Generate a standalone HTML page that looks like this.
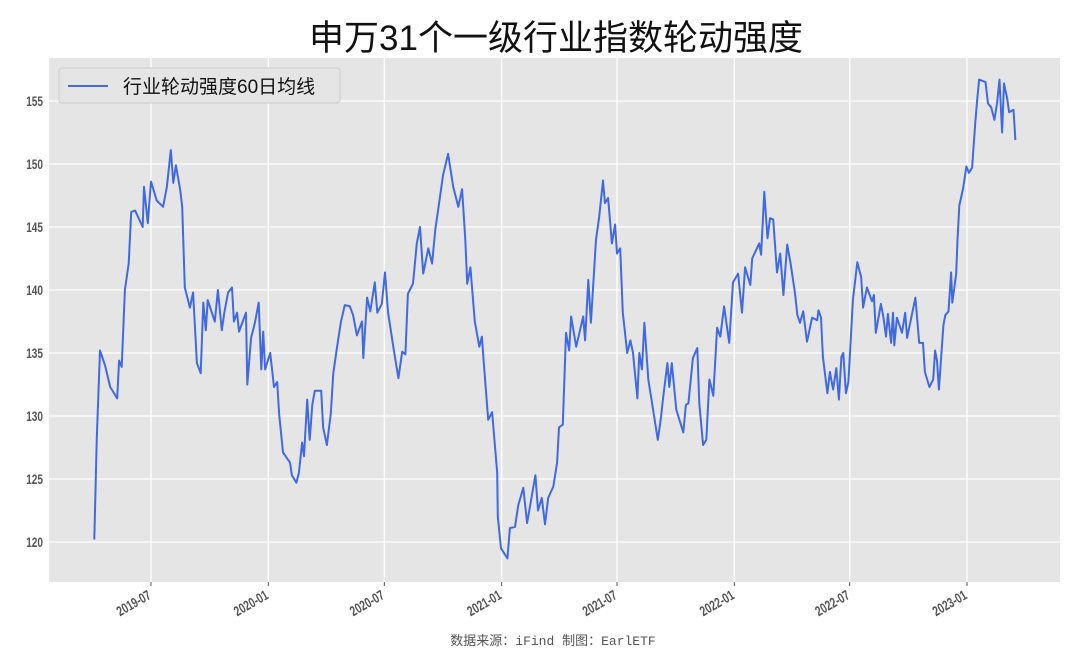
<!DOCTYPE html>
<html><head><meta charset="utf-8"><style>
html,body{margin:0;padding:0;background:#fff;}
svg{display:block;font-family:"Liberation Sans","Noto Sans CJK SC",sans-serif;}
</style></head><body>
<svg id="chart" width="1080" height="667" viewBox="0 0 1080 667">
<text x="556" y="50" text-anchor="middle" font-size="35" fill="#111" font-family="'Liberation Sans','Noto Sans CJK SC',sans-serif">申万31个一级行业指数轮动强度</text>
<rect x="49" y="58" width="1011" height="524" fill="#e5e5e5"/>
<g id="grid"></g>
<g id="yticks"></g>
<g id="xticks"></g>
<path id="series" fill="none" stroke="#4169e1" stroke-width="2" stroke-linejoin="round"/>
<g>
<rect x="59" y="68" width="281" height="35" rx="3" fill="#e5e5e5" stroke="#cccccc"/>
<line x1="68" y1="86" x2="108" y2="86" stroke="#4169e1" stroke-width="2"/>
<text x="123" y="93" font-size="19" fill="#111">行业轮动强度60日均线</text>
</g>
<text x="553" y="645" text-anchor="middle" font-size="13" fill="#555" font-family="'Liberation Mono','Noto Sans CJK SC',monospace">数据来源：iFind 制图：EarlETF</text>
</svg>
<script>
// days since 2019-07-01
const days=[-89,-85,-80,-72,-64,-53,-50,-46,-41,-35,-31,-25,-13,-11,-5,0,9,19,25,31,35,39,46,49,53,61,66,72,78,82,86,89,100,105,111,115,121,127,130,135,138,149,151,157,163,169,173,176,179,187,193,198,201,207,218,221,228,232,237,240,245,249,253,257,267,270,276,282,286,292,298,304,312,317,323,331,333,339,344,351,355,362,367,372,380,388,394,399,403,411,417,422,427,435,441,446,452,458,466,474,482,488,493,496,501,508,515,519,522,529,535,543,544,549,559,563,571,576,584,590,603,607,613,618,623,631,637,640,646,651,656,659,667,673,678,681,686,690,698,703,709,712,717,723,728,731,736,740,747,752,756,763,766,770,774,780,786,795,800,803,810,813,817,824,835,839,843,850,857,860,866,871,876,882,888,893,899,907,913,921,927,932,940,943,954,957,962,967,971,976,982,987,992,998,1003,1010,1014,1018,1023,1029,1037,1045,1047,1051,1054,1061,1065,1070,1075,1079,1083,1086,1090,1094,1101,1108,1114,1117,1123,1131,1134,1137,1145,1149,1153,1156,1161,1164,1166,1170,1178,1183,1186,1199,1205,1211,1214,1221,1227,1230,1233,1236,1243,1246,1251,1255,1257,1263,1265,1268,1274,1279,1283,1288,1293,1296,1299,1309,1313,1318,1323,1327,1331,1335,1338,1343,1346,1353,1356];
const values=[120.2,128.3,135.2,134,132.3,131.4,134.4,133.9,140,142.1,146.2,146.3,145,148.2,145.3,148.6,147.1,146.6,148.2,151.1,148.5,149.9,147.9,146.6,140.2,138.6,139.8,134.2,133.4,139,136.8,139.2,137.5,140,136.8,138.2,139.8,140.2,137.5,138.2,136.7,138.2,132.5,136.2,137.4,139,133.7,136.7,133.7,135,132.3,132.7,130.2,127.1,126.3,125.3,124.7,125.5,127.9,126.8,131.3,128.1,130.9,132,132,129.1,127.7,130.2,133.4,135.5,137.5,138.8,138.7,138,136.4,137.5,134.6,139.4,138.3,140.6,138.2,138.9,141.4,138.2,135.5,133,135.1,134.9,139.7,140.5,143.7,145,141.3,143.3,142.1,144.8,146.9,149.1,150.8,148.2,146.6,148,144,140.5,141.8,137.5,135.5,136.3,134.2,129.7,130.3,125.5,122,119.5,118.7,121.1,121.2,122.9,124.3,121.5,125.3,122.5,123.5,121.4,123.5,124.4,126.3,129.1,129.3,136.6,135.2,137.9,135.5,136.8,137.9,136,140.8,137.4,144,145.8,148.7,146.9,147.3,143.7,145.2,142.9,143.3,138.2,135,136,135,131.4,135,133.7,137.4,132.9,131,128.1,129.9,131.3,134.2,132.3,134.2,130.5,128.7,130.9,131,134.6,135.4,131,127.7,128.1,132.9,131.6,137,136.3,138.7,135.8,140.6,141.3,138.2,141.8,140.4,142.5,143.7,142.8,147.8,144.1,145.7,145.6,141.4,142.9,139.6,143.6,142.2,139.8,138,137.4,138.3,135.9,137.8,137.6,138.4,137.8,134.7,131.8,133.5,132.1,133.8,131.3,134.7,135,131.8,132.7,139.2,142.2,141,138.6,140.2,139.1,139.6,136.6,138.9,137.8,136.3,138.1,135.8,138.2,135.6,137.8,136.6,138.2,136.2,139.4,135.8,135.8,133.5,132.3,132.9,135.2,134.4,132.1,137.2,138,138.3,141.4,139,141.3,143.8,146.7,148.1,149.8,149.3,149.7,153.3,155.1,156.7,156.5,154.8,154.5,153.5,154.8,156.7,152.5,156.4,155.2,154.1,154.3,151.9];
const yTicks=[120,125,130,135,140,145,150,155];
const xTickLabels=["2019-07","2020-01","2020-07","2021-01","2021-07","2022-01","2022-07","2023-01"];
const xTickDays=[0,184,366,550,731,915,1096,1280];

const NS="http://www.w3.org/2000/svg";
function X(d){return 151+d*0.6375;}
function Y(v){return 101+(155-v)*12.6;}
function mk(tag,attrs,parent){const e=document.createElementNS(NS,tag);for(const k in attrs)e.setAttribute(k,attrs[k]);parent.appendChild(e);return e;}
const grid=document.getElementById('grid'),yt=document.getElementById('yticks'),xt=document.getElementById('xticks');
yTicks.forEach(v=>{
  const l=mk('line',{x1:49,x2:1060,y1:Y(v),y2:Y(v),stroke:'#fff','stroke-width':1.3},grid);
  
  
  const t=mk('text',{x:0,y:0,'text-anchor':'end','font-size':14,'font-weight':'bold',fill:'#555',transform:`translate(43,${Y(v)+5}) scale(0.72,1)`},yt);
  t.textContent=v;
  
  
});
xTickDays.forEach((d,i)=>{
  const x=X(d);
  const l=mk('line',{x1:x,x2:x,y1:58,y2:582,stroke:'#fff','stroke-width':1.3},grid);
  
  
  const tk=mk('line',{x1:x,x2:x,y1:582,y2:586,stroke:'#555','stroke-width':1},xt);
  
  
  const t=mk('text',{x:0,y:0,'text-anchor':'end','font-size':14,'font-weight':'bold',fill:'#555',transform:`translate(${x+1},${598}) rotate(-30) scale(0.72,1)`},xt);
  t.textContent=xTickLabels[i];
  
  
});
document.getElementById('series').setAttribute('d',days.map((d,i)=>(i?'L':'M')+X(d).toFixed(1)+','+Y(values[i]).toFixed(1)).join(''));
</script>
</body></html>
